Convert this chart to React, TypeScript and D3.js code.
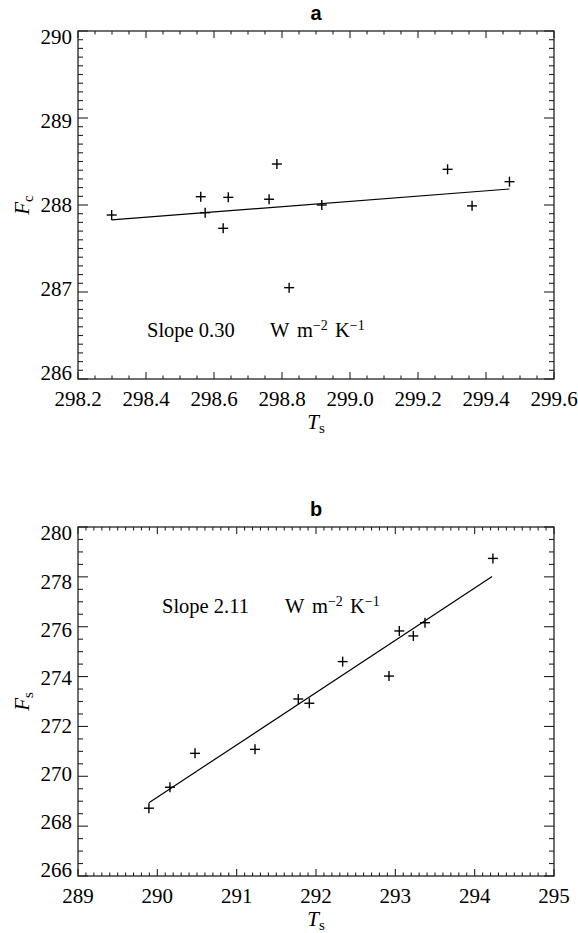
import * as d3 from 'd3';

// panel a : convective flux vs surface temperature
const aTs = [298.299, 298.561, 298.574, 298.642, 298.627, 298.762, 298.785, 298.821, 298.917, 299.287, 299.359, 299.469];
const aFc = [287.885, 288.095, 287.912, 288.088, 287.732, 288.066, 288.471, 287.05, 288.0, 288.41, 287.99, 288.268];
const aFit = [
  [298.299, 287.828],
  [299.469, 288.184],
];
const aXTicks = [298.2, 298.4, 298.6, 298.8, 299.0, 299.2, 299.4, 299.6];
const aYTicks = [286, 287, 288, 289, 290];

// panel b : surface flux vs surface temperature
const bTs = [289.894, 290.159, 290.475, 291.231, 291.777, 291.916, 292.336, 292.92, 293.05, 293.227, 293.374, 294.23];
const bFs = [268.72, 269.56, 270.92, 271.08, 273.1, 272.93, 274.6, 274.02, 275.83, 275.63, 276.16, 278.74];
const bFit = [
  [289.894, 268.94],
  [294.22, 278.01],
];
const bXTicks = [289, 290, 291, 292, 293, 294, 295];
const bYTicks = [266, 268, 270, 272, 274, 276, 278, 280];

const serif = '"Liberation Serif", "Times New Roman", serif';
const sans = '"Liberation Sans", Arial, sans-serif';
const ink = '#222';

const isMajor = (v, step) => Math.abs(v / step - Math.round(v / step)) < 1e-6;

function Panel({ title, top, bottom, xs, ys, xTicks, yTicks, xMinor, yMinor, xFmt, fit, ySub, slope, slopeDx, slopeDy }) {
  const left = 78;
  const right = 554;
  const x = d3.scaleLinear().domain([xTicks[0], xTicks[xTicks.length - 1]]).range([left, right]);
  const y = d3.scaleLinear().domain([yTicks[0], yTicks[yTicks.length - 1]]).range([bottom, top]);
  const xMajorStep = xTicks[1] - xTicks[0];
  const yMajorStep = yTicks[1] - yTicks[0];
  const xm = d3.range(xTicks[0], xTicks[xTicks.length - 1] + 1e-9, xMinor);
  const ym = d3.range(yTicks[0], yTicks[yTicks.length - 1] + 1e-9, yMinor);
  const mid = (top + bottom) / 2;
  const labelY = (v) => mid + (y(v) - mid) * 0.965;
  const line = d3.line().x((d) => x(d[0])).y((d) => y(d[1]));
  const sx = left + slopeDx;
  const sy = top + slopeDy;

  return (
    <g>
      <text x={(left + right) / 2} y={top - 11} textAnchor='middle' fontFamily={sans} fontWeight='bold' fontSize={20}>
        {title}
      </text>
      <rect x={left} y={top} width={right - left} height={bottom - top} fill='none' stroke={ink} strokeWidth={1.3} />
      {xm.map((v, i) => {
        const len = isMajor(v, xMajorStep) ? 7 : 3.5;
        return (
          <g key={'xm' + i} stroke={ink} strokeWidth={1.1}>
            <line x1={x(v)} x2={x(v)} y1={bottom} y2={bottom - len} />
            <line x1={x(v)} x2={x(v)} y1={top} y2={top + len} />
          </g>
        );
      })}
      {ym.map((v, i) => {
        const len = isMajor(v, yMajorStep) ? 10 : 5;
        return (
          <g key={'ym' + i} stroke={ink} strokeWidth={1.1}>
            <line x1={left} x2={left + len} y1={y(v)} y2={y(v)} />
            <line x1={right} x2={right - len} y1={y(v)} y2={y(v)} />
          </g>
        );
      })}
      {xTicks.map((v) => (
        <text key={'xl' + v} x={x(v)} y={bottom + 27} textAnchor='middle' fontFamily={serif} fontSize={21}>
          {xFmt(v)}
        </text>
      ))}
      {yTicks.map((v) => (
        <text key={'yl' + v} x={left - 6} y={labelY(v)} dy='0.35em' textAnchor='end' fontFamily={serif} fontSize={21}>
          {v}
        </text>
      ))}
      <text x={(left + right) / 2} y={bottom + 50} textAnchor='middle' fontFamily={serif} fontSize={21}>
        <tspan fontStyle='italic'>T</tspan>
        <tspan fontSize={15} dy={4}>s</tspan>
      </text>
      <text transform={`translate(29,${mid}) rotate(-90)`} textAnchor='middle' fontFamily={serif} fontSize={21}>
        <tspan fontStyle='italic'>F</tspan>
        <tspan fontSize={15} dy={4}>{ySub}</tspan>
      </text>
      <path d={line(fit)} fill='none' stroke='#000' strokeWidth={1.2} />
      {xs.map((t, i) => (
        <g key={'p' + i} stroke='#000' strokeWidth={1.4}>
          <line x1={x(t) - 5} x2={x(t) + 5} y1={y(ys[i])} y2={y(ys[i])} />
          <line x1={x(t)} x2={x(t)} y1={y(ys[i]) - 5} y2={y(ys[i]) + 5} />
        </g>
      ))}
      <g fontFamily={serif} fontSize={20.5}>
        <text x={sx} y={sy}>{'Slope ' + slope}</text>
        <text x={sx + 123} y={sy}>W</text>
        <text x={sx + 150} y={sy}>
          m<tspan dy={-7} fontSize={14}>−2</tspan>
        </text>
        <text x={sx + 188} y={sy}>
          K<tspan dy={-7} fontSize={14}>−1</tspan>
        </text>
      </g>
    </g>
  );
}

export default function App() {
  return (
    <svg width={578} height={933} style={{ position: 'absolute', left: 0, top: 0, background: '#fff' }}>
      <Panel
        title='a'
        top={31}
        bottom={379}
        xs={aTs}
        ys={aFc}
        xTicks={aXTicks}
        yTicks={aYTicks}
        xMinor={0.05}
        yMinor={0.1}
        xFmt={(v) => v.toFixed(1)}
        fit={aFit}
        ySub='c'
        slope='0.30'
        slopeDx={69}
        slopeDy={306}
      />
      <Panel
        title='b'
        top={527}
        bottom={876}
        xs={bTs}
        ys={bFs}
        xTicks={bXTicks}
        yTicks={bYTicks}
        xMinor={0.1}
        yMinor={0.5}
        xFmt={(v) => String(v)}
        fit={bFit}
        ySub='s'
        slope='2.11'
        slopeDx={84}
        slopeDy={86}
      />
    </svg>
  );
}
